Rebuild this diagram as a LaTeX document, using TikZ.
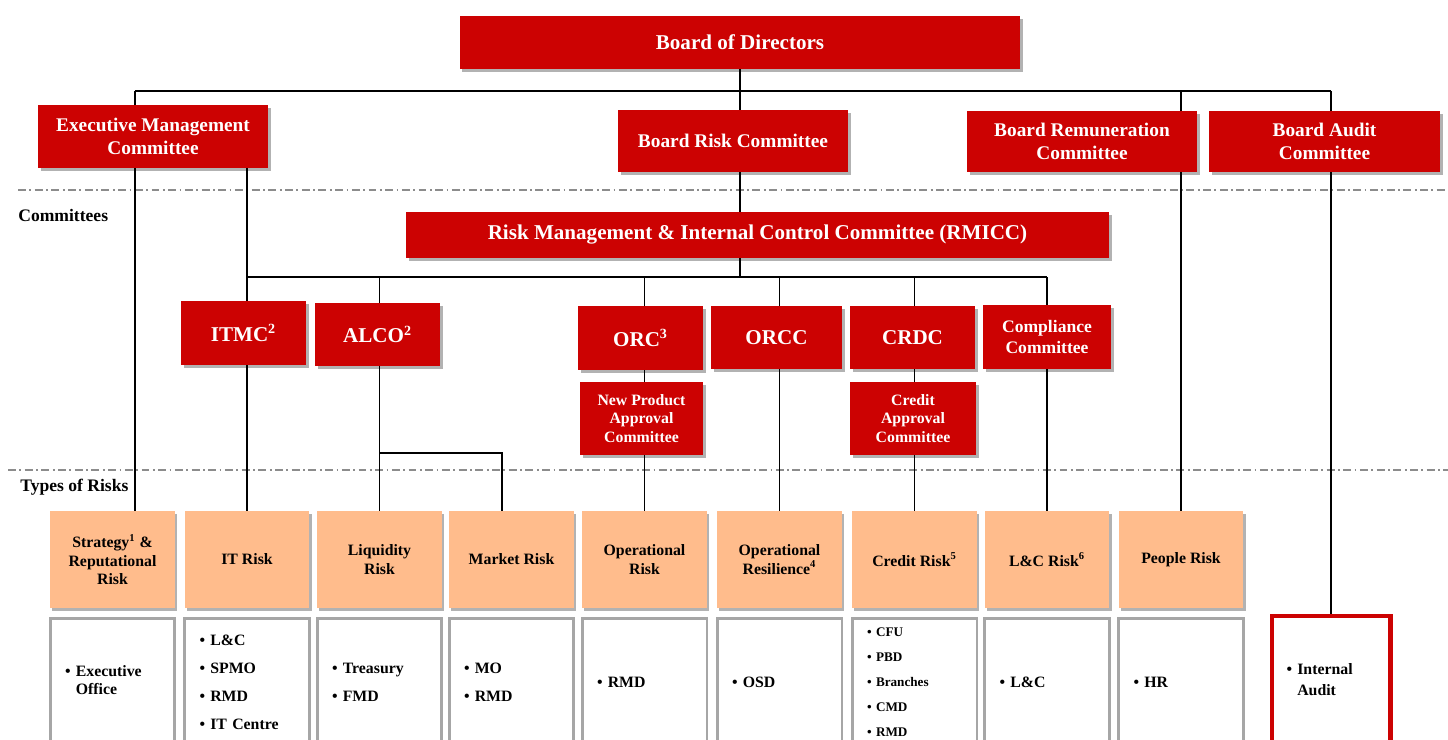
\documentclass[tikz,border=0pt]{standalone}
\usepackage{fontspec}
\setmainfont{Liberation Serif}
\usetikzlibrary{shadows,backgrounds}
\definecolor{bankred}{HTML}{CC0202}
\definecolor{peach}{HTML}{FFBC8C}
\definecolor{boxgray}{HTML}{A6A6A6}
\definecolor{sepgray}{HTML}{8C8C8C}

\begin{document}
\begin{tikzpicture}[x=0.02cm,y=-0.02cm,
	fs/.style 2 args={font=\bfseries\fontsize{#1}{#2}\selectfont},
	redbox/.style={fill=bankred,text=white,align=center,inner sep=0pt,
		drop shadow={shadow xshift=1.5pt,shadow yshift=-1.5pt,fill=black,opacity=0.3}},
	riskbox/.style={fill=peach,fs={9}{10.5},align=center,inner sep=0pt,
		minimum width=2.5cm,minimum height=1.94cm,
		drop shadow={shadow xshift=1.2pt,shadow yshift=-1.5pt,fill=black,opacity=0.3}},
	unitbox/.style={draw=boxgray,line width=1.7pt,fill=white,fs={9}{16},align=left,
		text width=1.9cm,inner xsep=0.3cm,inner ysep=0pt,minimum height=2.56cm},
	link/.style={line width=0.8pt},
	sep/.style={sepgray,line width=0.8pt,dash pattern=on 4.5pt off 2pt on 1pt off 2pt}]
	\useasboundingbox (0,0) rectangle (1448,740);

	% board level
	\node[redbox,fs={12}{14},minimum width=11.22cm,minimum height=1.06cm] (bod) at (740,42.5) {Board of Directors};
	\node[redbox,fs={11}{13},minimum width=4.6cm,minimum height=1.26cm] (emc) at (153,136.5) {Executive Management\\Committee};
	\node[redbox,fs={11}{13},minimum width=4.6cm,minimum height=1.24cm] (brc) at (733,141) {Board Risk Committee};
	\node[redbox,fs={11}{13},minimum width=4.6cm,minimum height=1.22cm] (bremc) at (1082,141.5) {Board Remuneration\\Committee};
	\node[redbox,fs={11}{13},minimum width=4.62cm,minimum height=1.22cm] (bac) at (1324.5,141.5) {Board Audit\\Committee};

	% committees
	\node[fs={10}{12},anchor=west,inner sep=0pt] (comlabel) at (18,215) {Committees};
	\node[redbox,fs={12}{14},minimum width=14.06cm,minimum height=0.92cm] (rmicc) at (757.5,235) {Risk Management \& Internal Control Committee (RMICC)};
	\node[redbox,fs={12}{14},minimum width=2.5cm,minimum height=1.28cm] (itmc) at (243.5,333) {ITMC\textsuperscript{2}};
	\node[redbox,fs={12}{14},minimum width=2.5cm,minimum height=1.26cm] (alco) at (377.5,334.5) {ALCO\textsuperscript{2}};
	\node[redbox,fs={12}{14},minimum width=2.5cm,minimum height=1.28cm] (orc) at (640.5,338) {ORC\textsuperscript{3}};
	\node[redbox,fs={12}{14},minimum width=2.62cm,minimum height=1.26cm] (orcc) at (776.5,337.5) {ORCC};
	\node[redbox,fs={12}{14},minimum width=2.5cm,minimum height=1.26cm] (crdc) at (912.5,337.5) {CRDC};
	\node[redbox,fs={10}{12.5},minimum width=2.56cm,minimum height=1.28cm] (comp) at (1047,337) {Compliance\\Committee};
	\node[redbox,fs={9}{10.5},minimum width=2.46cm,minimum height=1.46cm] (npac) at (641.5,418.5) {New Product\\Approval\\Committee};
	\node[redbox,fs={9}{10.5},minimum width=2.52cm,minimum height=1.46cm] (cac) at (913,418.5) {Credit\\Approval\\Committee};

	% types of risks
	\node[fs={10}{12},anchor=west,inner sep=0pt] (risklabel) at (20,487) {Types of Risks};
	\node[riskbox] (strat) at (112.5,559.5) {Strategy\textsuperscript{1} \&\\Reputational\\Risk};
	\node[riskbox] (itrisk) at (247,559.5) {IT Risk};
	\node[riskbox] (liq) at (379.5,559.5) {Liquidity\\Risk};
	\node[riskbox] (market) at (511.5,559.5) {Market Risk};
	\node[riskbox] (oprisk) at (644.5,559.5) {Operational\\Risk};
	\node[riskbox] (opres) at (779.5,559.5) {Operational\\Resilience\textsuperscript{4}};
	\node[riskbox] (credit) at (914.5,559.5) {Credit Risk\textsuperscript{5}};
	\node[riskbox] (lcrisk) at (1047,559.5) {L\&C Risk\textsuperscript{6}};
	\node[riskbox] (people) at (1181,559.5) {People Risk};

	% owning units
	\node[unitbox,fs={9}{10.5}] (stratunit) at (112.5,682) {\textbullet~\begin{tabular}[t]{@{}l@{}}Executive\\Office\end{tabular}};
	\node[unitbox] (itunit) at (247,682) {\textbullet~L\&C\\\textbullet~SPMO\\\textbullet~RMD\\\textbullet~IT Centre};
	\node[unitbox] (liqunit) at (379.5,682) {\textbullet~Treasury\\\textbullet~FMD};
	\node[unitbox] (marketunit) at (511.5,682) {\textbullet~MO\\\textbullet~RMD};
	\node[unitbox] (opunit) at (644.5,682) {\textbullet~RMD};
	\node[unitbox] (opresunit) at (779.5,682) {\textbullet~OSD};
	\node[unitbox,fs={7.5}{14.2}] (creditunit) at (914.5,682) {\textbullet~CFU\\\textbullet~PBD\\\textbullet~Branches\\\textbullet~CMD\\\textbullet~RMD};
	\node[unitbox] (lcunit) at (1047,682) {\textbullet~L\&C};
	\node[unitbox] (peopleunit) at (1181,682) {\textbullet~HR};
	\node[unitbox,draw=bankred,line width=2.3pt,fs={9}{11.4},text width=1.78cm,minimum height=2.6cm] (ia) at (1331,681) {\textbullet~\begin{tabular}[t]{@{}l@{}}Internal\\Audit\end{tabular}};

	\begin{pgfonlayer}{background}
		\fill[white] (0,0) rectangle (1448,740);
		\draw[sep] (18,190) -- (1448,190);
		\draw[sep] (8,470) -- (1448,470);
		\coordinate (busL) at (135,91);
		\coordinate (busR) at (1331,91);
		\coordinate (rmbus) at (741,277);
		\coordinate (alcofork) at (502,453);
		\draw[link] (busL) -- (busR);
		\draw[link] (bod.south) -- (bod.south |- rmbus);
		\draw[link] (busL) -- (busL |- strat.north);
		\draw[link] (itrisk.north |- emc.south) -- (itrisk.north);
		\draw[link] (itrisk.north |- rmbus) -- (lcrisk.north |- rmbus);
		\draw[link] (liq.north |- rmbus) -- (liq.north);
		\draw[link] (liq.north |- alcofork) -- (alcofork) -- (alcofork |- market.north);
		\draw[link] (oprisk.north |- rmbus) -- (oprisk.north);
		\draw[link] (opres.north |- rmbus) -- (opres.north);
		\draw[link] (credit.north |- rmbus) -- (credit.north);
		\draw[link] (lcrisk.north |- rmbus) -- (lcrisk.north);
		\draw[link] (people.north |- busR) -- (people.north);
		\draw[link] (busR) -- (ia.north);
	\end{pgfonlayer}
\end{tikzpicture}
\end{document}
